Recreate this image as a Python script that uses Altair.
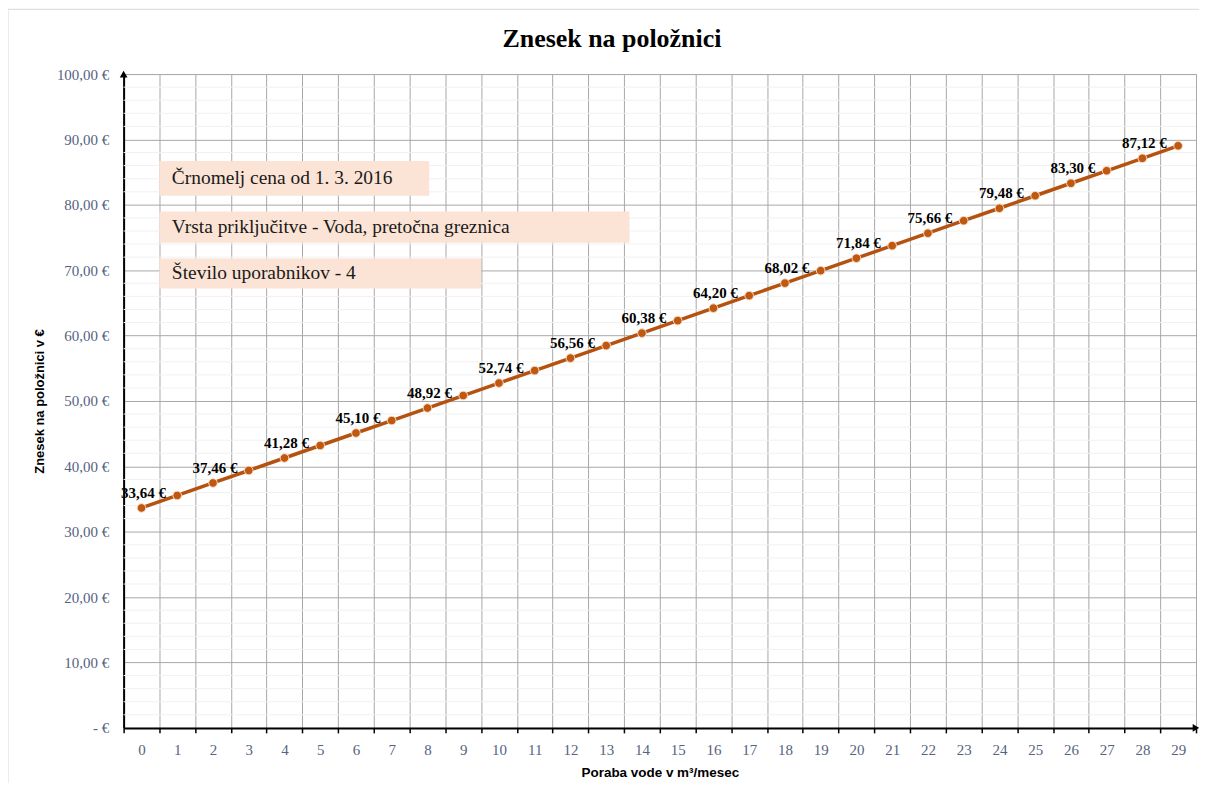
import altair as alt
import pandas as pd

# data
poraba = list(range(30))
znesek = [33.64, 35.55, 37.46, 39.37, 41.28, 43.19, 45.10, 47.01, 48.92, 50.83,
          52.74, 54.65, 56.56, 58.47, 60.38, 62.29, 64.20, 66.11, 68.02, 69.93,
          71.84, 73.75, 75.66, 77.57, 79.48, 81.39, 83.30, 85.21, 87.12, 89.03]
oznaceni = [0, 2, 4, 6, 8, 10, 12, 14, 16, 18, 20, 22, 24, 26, 28]

naslov = "Znesek na položnici"
opombe = ["Črnomelj cena od 1. 3. 2016",
          "Vrsta priključitve  - Voda, pretočna greznica",
          "Število uporabnikov - 4"]
# annotation box geometry (data units)
opombe_x1 = [0.5, 0.5, 0.5]
opombe_x2 = [8.05, 13.65, 9.5]
opombe_y1 = [86.7, 79.0, 71.8]
opombe_y2 = [81.4, 74.2, 67.2]
opombe_tx = [0.85, 0.85, 0.85]

W, H = 1076, 656
step = W / 30

df = pd.DataFrame({"x": poraba, "y": znesek})
df["lbl"] = [x in oznaceni for x in poraba]

ann = pd.DataFrame({"t": opombe, "x1": opombe_x1, "x2": opombe_x2,
                    "y1": opombe_y1, "y2": opombe_y2, "tx": opombe_tx})
ann["ty"] = (ann["y1"] + ann["y2"]) / 2

minor = pd.DataFrame({"v": [v for v in range(2, 100, 2) if v % 10 != 0]})

xscale = alt.Scale(domain=[-0.5, 29.5], nice=False, zero=False)
yscale = alt.Scale(domain=[0, 100], nice=False)

bounds = [i - 0.5 for i in range(31)]

xaxis = alt.Axis(values=bounds,
                 labelExpr="datum.value > 29 ? '' : '' + round(datum.value + 0.5)",
                 labelOffset=step / 2, labelFont="Liberation Serif", labelFontSize=15,
                 labelColor="#55637f", labelPadding=10, labelOverlap=False,
                 labelFlush=False, labelBound=False,
                 tickSize=5, tickColor="black", tickWidth=1.5,
                 domainColor="black", domainWidth=2,
                 grid=True, gridColor="#a8a8a8", gridWidth=1,
                 title="Poraba vode v m³/mesec", titleFont="Liberation Sans",
                 titleFontSize=13.5, titleFontWeight="bold", titleColor="black",
                 titlePadding=8)
yaxis = alt.Axis(values=list(range(0, 101, 10)),
                 labelExpr="datum.value == 0 ? '-   €' : replace(format(datum.value, '.2f'), '.', ',') + ' €'",
                 labelFont="Liberation Serif", labelFontSize=15, labelColor="#55637f",
                 labelPadding=15, ticks=False, labelOverlap=False,
                 domainColor="black", domainWidth=2,
                 grid=True, gridColor="#a8a8a8", gridWidth=1,
                 title="Znesek na položnici v €", titleFont="Liberation Sans",
                 titleFontSize=13, titleFontWeight="bold", titleColor="black",
                 titlePadding=10)

X = lambda f: alt.X(f, scale=xscale, axis=xaxis)
Y = lambda f: alt.Y(f, scale=yscale, axis=yaxis)

one = pd.DataFrame({"t": [naslov]})

frame = alt.Chart(one).mark_rect(
    fill=None, stroke="#d9d9d9", strokeWidth=1).encode(
    x=alt.value(-116), x2=alt.value(W + 30), y=alt.value(-65), y2=alt.value(H + 60))

title = alt.Chart(one).mark_text(
    font="Liberation Serif", fontSize=26, fontWeight="bold", color="black",
    baseline="middle", align="center").encode(
    x=alt.value(W / 2 - 48), y=alt.value(-35), text="t:N")

minor_grid = alt.Chart(minor).mark_rule(color="#f1f1f1", strokeWidth=1).encode(
    y=Y("v:Q"))

base = alt.Chart(df)

line = base.mark_line(color="#b5520f", strokeWidth=3.5).encode(x=X("x:Q"), y=Y("y:Q"))

pts = base.mark_point(filled=True, fill="#c0580f", stroke="#f3d9c6", strokeWidth=1,
                      size=75, opacity=1).encode(x=X("x:Q"), y=Y("y:Q"))

labels = base.transform_filter("datum.lbl").transform_calculate(
    t="replace(format(datum.y, '.2f'), '.', ',') + ' €'").mark_text(
    font="Liberation Serif", fontSize=15, fontWeight="bold", color="black",
    dy=-15, dx=2).encode(x=X("x:Q"), y=Y("y:Q"), text="t:N")

boxes = alt.Chart(ann).mark_rect(fill="#fbe4d5").encode(
    x=X("x1:Q"), x2="x2:Q", y=Y("y1:Q"), y2="y2:Q")
box_text = alt.Chart(ann).mark_text(
    font="Liberation Serif", fontSize=19.5, color="#1a1a1a", align="left",
    baseline="middle").encode(x=X("tx:Q"), y=Y("ty:Q"), text="t:N")

arrows = alt.Chart(pd.DataFrame({"x": [-0.5, 29.5], "y": [100, 0],
                                 "s": ["triangle-up", "triangle-right"]})).mark_point(
    filled=True, color="black", size=60, opacity=1).encode(
    x=X("x:Q"), y=Y("y:Q"),
    shape=alt.Shape("s:N", scale=None, legend=None))

chart = alt.layer(frame, title, minor_grid, boxes, box_text, line, pts, labels, arrows).properties(
    width=W, height=H,
    autosize=alt.AutoSizeParams(type="none"),
    padding={"left": 116, "top": 65, "right": 3, "bottom": 54},
).configure_view(stroke=None).configure_axis(labelOverlap=False).configure(background="white")

chart.save("out.html", embed_options={"renderer": "svg", "actions": False})
